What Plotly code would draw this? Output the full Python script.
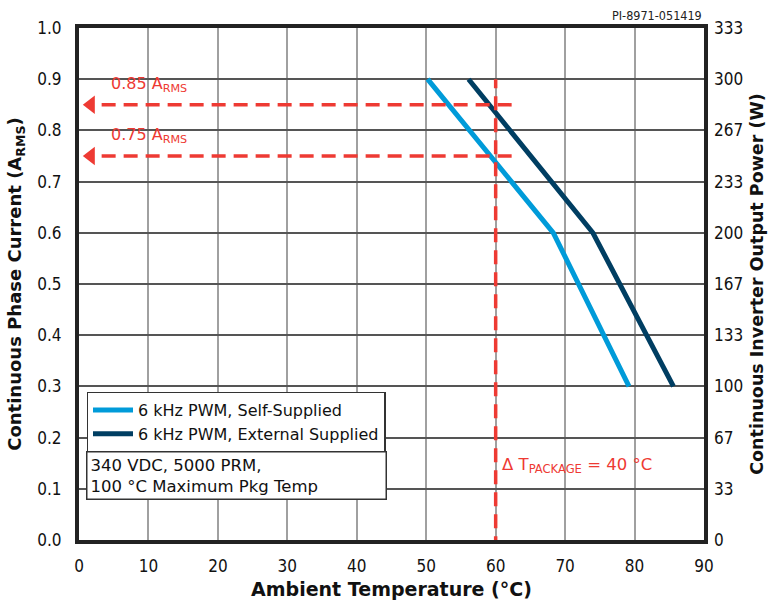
import plotly.graph_objects as go

# ---- data ----
self_temp = [50.2, 68.3, 79.2]
self_current = [0.90, 0.60, 0.30]
ext_temp = [56.1, 74.0, 85.6]
ext_current = [0.90, 0.60, 0.30]

limit_temp = 60
limit_current_top = 0.90
level_currents = [0.85, 0.75]
level_labels = ["0.85 A<sub>RMS</sub>", "0.75 A<sub>RMS</sub>"]
arrow_temp_start = 62.3
arrow_temp_end = 1.7

x_ticks = [0, 10, 20, 30, 40, 50, 60, 70, 80, 90]
y_ticks = [0.0, 0.1, 0.2, 0.3, 0.4, 0.5, 0.6, 0.7, 0.8, 0.9, 1.0]
y_tick_text = ["0.0", "0.1", "0.2", "0.3", "0.4", "0.5", "0.6", "0.7", "0.8", "0.9", "1.0"]
power_tick_text = ["0", "33", "67", "100", "133", "167", "200", "233", "267", "300", "333"]
power_max = 1000 / 3

RED = "#EE3A33"
LIGHT = "#009BD9"
DARK = "#003E62"
FONT = "DejaVu Sans"
TICKFONT = "DejaVu Sans Condensed, Liberation Sans Narrow, DejaVu Sans"

fig = go.Figure()

fig.add_trace(go.Scatter(x=self_temp, y=self_current, mode="lines",
                         line=dict(color=LIGHT, width=5),
                         name="6 kHz PWM, Self-Supplied"))
fig.add_trace(go.Scatter(x=ext_temp, y=ext_current, mode="lines",
                         line=dict(color=DARK, width=5),
                         name="6 kHz PWM, External Supplied"))

# vertical limit line
fig.add_trace(go.Scatter(x=[limit_temp, limit_temp], y=[-0.02, limit_current_top], mode="lines",
                         line=dict(color=RED, width=3.5, dash="14px,8px"),
                         showlegend=False, hoverinfo="skip"))
# horizontal arrows
for lvl in level_currents:
    fig.add_trace(go.Scatter(x=[arrow_temp_start, arrow_temp_end + 1.2], y=[lvl, lvl], mode="lines",
                             line=dict(color=RED, width=3.5, dash="14px,8px"),
                             showlegend=False, hoverinfo="skip"))
    fig.add_trace(go.Scatter(x=[arrow_temp_end], y=[lvl], mode="markers",
                             marker=dict(symbol="triangle-left", size=16, color=RED),
                             showlegend=False, hoverinfo="skip", cliponaxis=False))

# secondary axis dummy trace
fig.add_trace(go.Scatter(x=[None], y=[None], yaxis="y2", showlegend=False, hoverinfo="skip"))

for lvl, lab in zip(level_currents, level_labels):
    fig.add_annotation(x=4.3, y=lvl + 0.015, text=lab, showarrow=False, xanchor="left", yanchor="bottom",
                       font=dict(family=FONT, size=16, color=RED))

fig.add_annotation(x=limit_temp + 0.6, y=0.146, text="Δ T<sub>PACKAGE</sub> = 40 °C", showarrow=False,
                   xanchor="left", yanchor="middle", font=dict(family=FONT, size=16.5, color=RED))

fig.add_annotation(x=1.0, y=0.174, xref="x", yref="y", text="340 VDC, 5000 PRM,<br>100 °C Maximum Pkg Temp",
                   showarrow=False, xanchor="left", yanchor="top", align="left",
                   bordercolor="#333", borderwidth=1.5, borderpad=3, bgcolor="white", width=292,
                   font=dict(family=FONT, size=16.5, color="#111"))

fig.add_annotation(x=1.0, y=1.0, xref="paper", yref="paper", yshift=3, text="PI-8971-051419",
                   showarrow=False, xanchor="right", yanchor="bottom",
                   font=dict(family=TICKFONT, size=12.5, color="#222"))

fig.update_layout(
    width=771, height=600,
    margin=dict(l=79, r=67, t=28, b=60, autoexpand=False),
    plot_bgcolor="white", paper_bgcolor="white",
    showlegend=True,
    legend=dict(x=0.012, y=0.29, xanchor="left", yanchor="top",
                bordercolor="#333", borderwidth=1.5, bgcolor="white",
                font=dict(family=FONT, size=16, color="#111"),
                tracegroupgap=0, itemwidth=40),
    xaxis=dict(range=[0, 90], tickvals=x_ticks, showgrid=True, gridcolor="#A0A0A0", gridwidth=1.5,
               showline=True, linecolor="#222", linewidth=4, mirror=True, automargin=False,
               ticks="", zeroline=False, ticklabelstandoff=8,
               tickfont=dict(family=TICKFONT, size=17, color="#111"),
               title=dict(text="<b>Ambient Temperature (°C)</b>", standoff=14,
                          font=dict(family=FONT, size=19, color="#111"))),
    yaxis=dict(range=[0, 1.0], tickvals=y_ticks, ticktext=y_tick_text, showgrid=True,
               gridcolor="#555555", gridwidth=1.5, automargin=False,
               showline=True, linecolor="#222", linewidth=4, mirror=True,
               ticks="", zeroline=False, ticklabelstandoff=10,
               tickfont=dict(family=TICKFONT, size=17, color="#111"),
               title=dict(text="<b>Continuous Phase Current (A<sub>RMS</sub>)</b>", standoff=12,
                          font=dict(family=FONT, size=18, color="#111"))),
    yaxis2=dict(range=[0, power_max], overlaying="y", side="right", automargin=False,
                tickvals=[v * power_max for v in y_ticks], ticktext=power_tick_text,
                showgrid=False, zeroline=False, showline=False, ticks="", ticklabelstandoff=9,
                tickfont=dict(family=TICKFONT, size=17, color="#111"),
                title=dict(text="<b>Continuous Inverter Output Power (W)</b>", standoff=8,
                           font=dict(family=FONT, size=17.5, color="#111"))),
)

fig.write_html("out.html")
